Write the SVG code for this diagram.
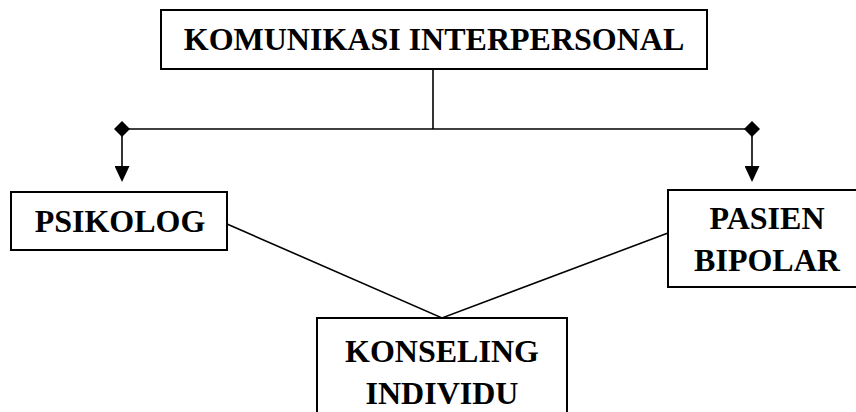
<svg xmlns="http://www.w3.org/2000/svg" width="856" height="412" viewBox="0 0 856 412">
<style>
.box{fill:#fff;stroke:#000;stroke-width:2}
.t{font-family:"Liberation Serif","Times New Roman",serif;font-weight:bold;font-size:32px;fill:#000;text-anchor:middle}
.ln{fill:none;stroke:#000;stroke-width:1.6}
</style>
<defs>
<marker id="arr" markerUnits="userSpaceOnUse" markerWidth="16" markerHeight="15" refX="0" refY="7.5" orient="auto" viewBox="0 0 16 15">
<path d="M0,0 L16,7.5 L0,15 z" fill="#000"/>
</marker>
<marker id="dia" markerUnits="userSpaceOnUse" markerWidth="16" markerHeight="16" refX="8" refY="8" orient="auto" viewBox="0 0 16 16">
<path d="M0,8 L8,0 L16,8 L8,16 z" fill="#000"/>
</marker>
</defs>
<rect width="856" height="412" fill="#fff"/>
<g id="connectors">
<path class="ln" d="M433,69 L433,129"/>
<path class="ln" d="M122,129 L752,129"/>
<path class="ln" d="M122,129 L122,166" marker-start="url(#dia)" marker-end="url(#arr)"/>
<path class="ln" d="M752,129 L752,166" marker-start="url(#dia)" marker-end="url(#arr)"/>
<path class="ln" d="M227,224 L442,318 L668,233"/>
</g>
<g id="komunikasi">
<rect class="box" x="161" y="10" width="546" height="59"/>
<text class="t" x="434" y="50">KOMUNIKASI INTERPERSONAL</text>
</g>
<g id="psikolog">
<rect class="box" x="11" y="192" width="216" height="58"/>
<text class="t" x="120" y="232">PSIKOLOG</text>
</g>
<g id="pasien">
<rect class="box" x="668" y="190" width="200" height="97"/>
<text class="t" x="767" y="229">PASIEN</text>
<text class="t" x="767" y="271">BIPOLAR</text>
</g>
<g id="konseling">
<rect class="box" x="317" y="318" width="250" height="110"/>
<text class="t" x="442" y="362">KONSELING</text>
<text class="t" x="442" y="404">INDIVIDU</text>
</g>
</svg>
